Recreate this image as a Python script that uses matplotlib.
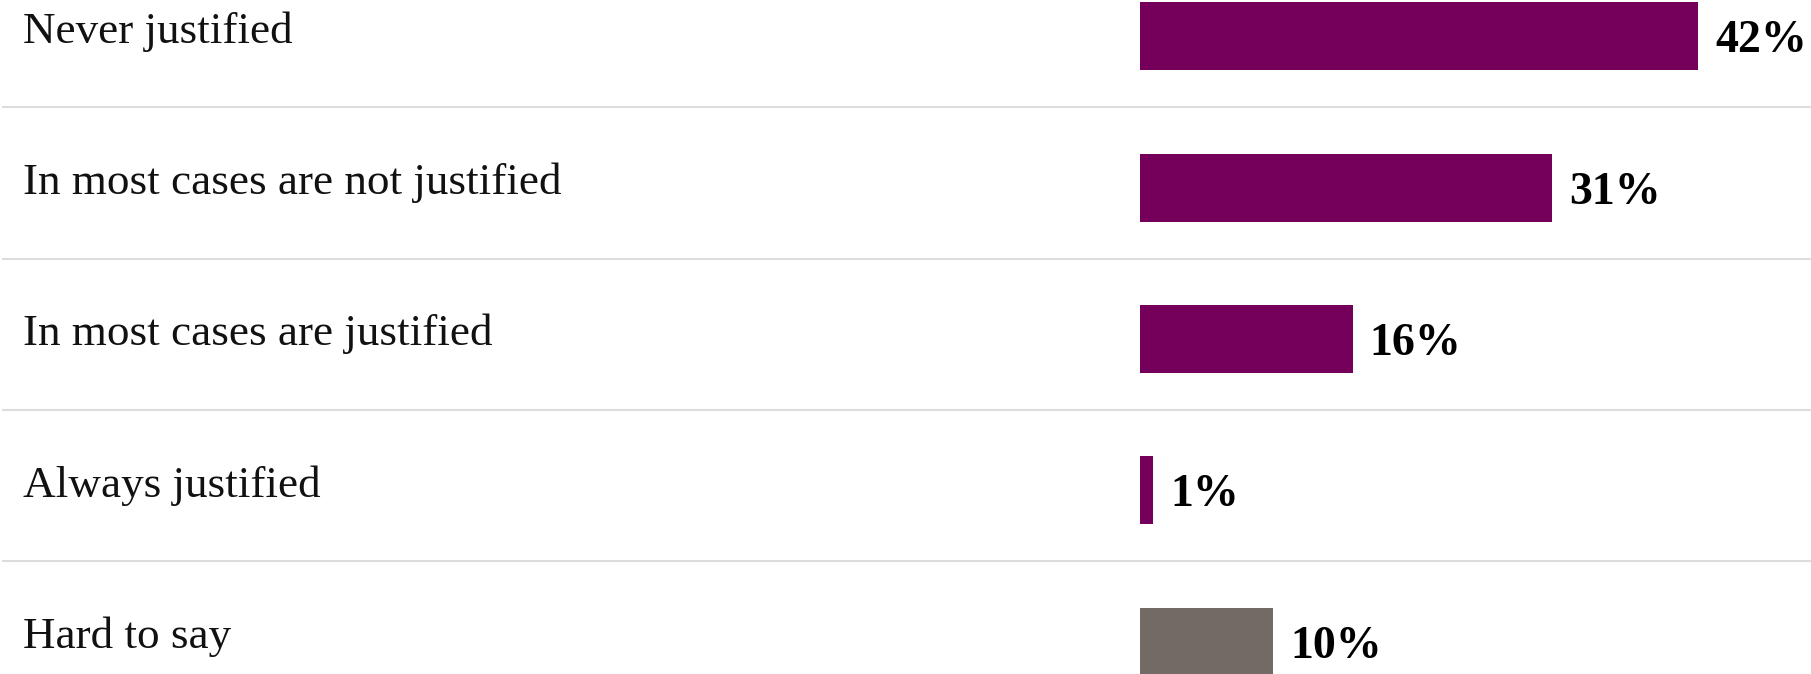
import matplotlib.pyplot as plt
from matplotlib.transforms import blended_transform_factory, offset_copy
import numpy as np

categories = ["Never justified", "In most cases are not justified",
              "In most cases are justified", "Always justified", "Hard to say"]
values = [42, 31, 16, 1, 10]
bar_colors = ["#74005b", "#74005b", "#74005b", "#74005b", "#736a65"]

W, H, DPI = 1811, 674, 100
fig = plt.figure(figsize=(W / DPI, H / DPI), dpi=DPI)
fig.patch.set_facecolor("white")

# bars live in the right part of the figure, labels on the left
bar_x0 = 1140 / W
ax = fig.add_axes([bar_x0, 0, 1 - bar_x0, 1])
ax.set_axis_off()

row_px = 151.3
top_px = 36.4
px_per_pct = 13.29
n = len(categories)
y = np.arange(n)

ax.set_xlim(0, (W - 1140) / px_per_pct)
ax.set_ylim(-top_px / row_px + H / row_px, -top_px / row_px)

ax.barh(y, values, height=0.45, color=bar_colors, edgecolor="none")

serif = ["Liberation Serif", "DejaVu Serif"]
row_trans = blended_transform_factory(fig.transFigure, ax.transData)
trans_lab = offset_copy(row_trans, fig=fig, y=-6.3 * 72 / DPI, units="points")
trans_val = offset_copy(ax.transData, fig=fig, x=17 * 72 / DPI, y=-16 * 72 / DPI,
                        units="points")

for i, (cat, v) in enumerate(zip(categories, values)):
    ax.text(23 / W, i, cat, transform=trans_lab, ha="left", va="baseline",
            fontsize=32.5, family=serif, color="#111111")
    ax.text(v, i, f"{v}%", transform=trans_val, ha="left", va="baseline",
            fontsize=33, family=serif, fontweight="bold", color="#000000")

# thin separators under each row, across the full width
for i in range(n - 1):
    ax.plot([3 / W, 1], [i + 0.469, i + 0.469], transform=row_trans,
            color="#dddddd", lw=1.5, clip_on=False)

fig.savefig("out.png", dpi=DPI, facecolor="white")
